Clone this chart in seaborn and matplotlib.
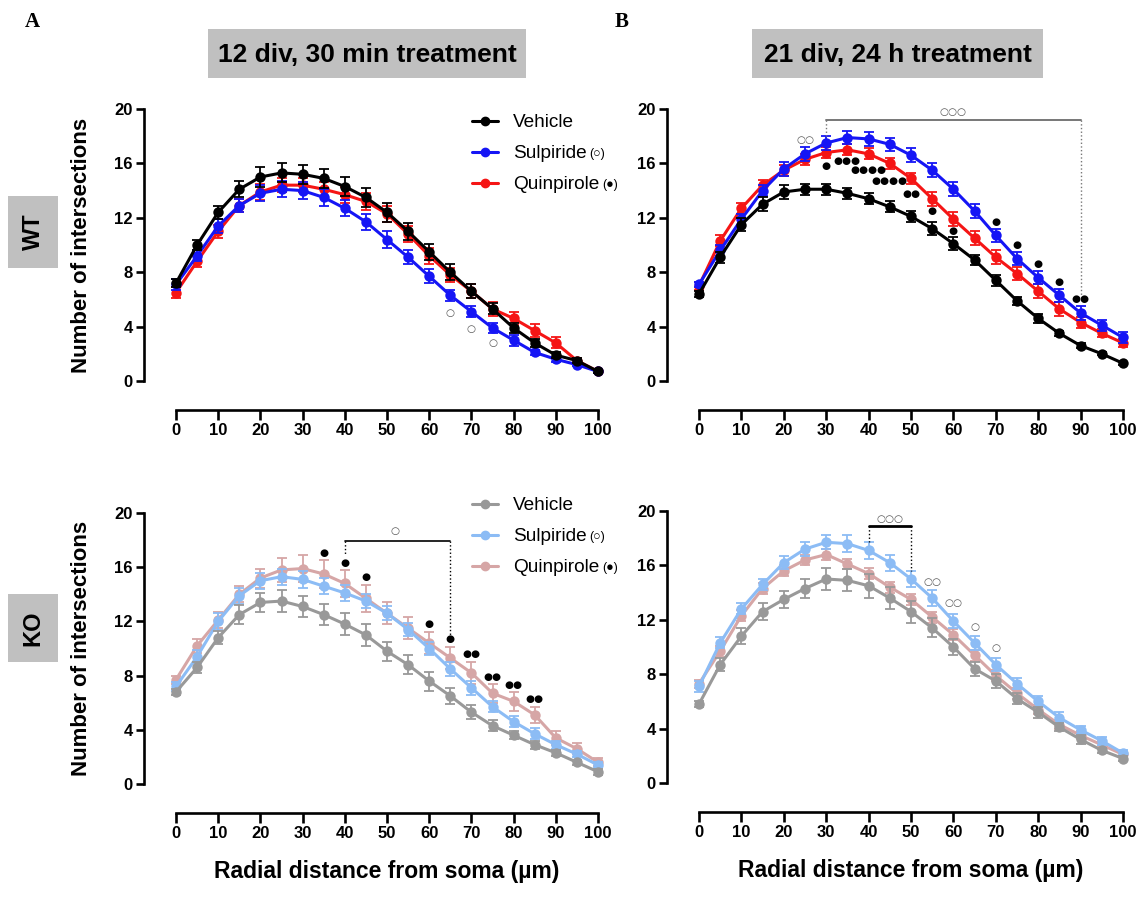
import numpy as np
import pandas as pd
import matplotlib
matplotlib.use('Agg')
import matplotlib.pyplot as plt
from matplotlib.lines import Line2D
from matplotlib.patches import Rectangle
import seaborn as sns

# radial distance steps
radius = np.arange(0, 101, 5)
treatments = ['Vehicle', 'Sulpiride', 'Quinpirole']

# WT, 12 div, 30 min treatment (mean, SEM)
wt_a_vehicle = [7.2, 10.0, 12.4, 14.1, 15.0, 15.3, 15.2, 14.9, 14.3, 13.5, 12.4, 11.0, 9.5, 8.0, 6.6, 5.3, 3.9, 2.8, 1.9, 1.5, 0.7]
wt_a_sulpiride = [7.1, 9.2, 11.4, 12.9, 13.8, 14.1, 14.0, 13.5, 12.7, 11.7, 10.4, 9.1, 7.7, 6.3, 5.1, 3.9, 3.0, 2.1, 1.6, 1.2, 0.7]
wt_a_quinpirole = [6.5, 8.8, 11.0, 12.9, 13.9, 14.4, 14.4, 14.1, 13.7, 13.2, 12.3, 10.8, 9.2, 7.8, 6.6, 5.3, 4.6, 3.7, 2.8, 1.5, 0.7]
wt_a_vehicle_sem = [0.3, 0.4, 0.5, 0.6, 0.7, 0.7, 0.7, 0.7, 0.7, 0.7, 0.7, 0.6, 0.6, 0.6, 0.5, 0.4, 0.4, 0.3, 0.2, 0.2, 0.1]
wt_a_sulpiride_sem = [0.4, 0.4, 0.5, 0.5, 0.6, 0.6, 0.6, 0.6, 0.6, 0.6, 0.6, 0.5, 0.5, 0.4, 0.4, 0.4, 0.4, 0.2, 0.2, 0.1, 0.1]
wt_a_quinpirole_sem = [0.4, 0.4, 0.5, 0.5, 0.6, 0.5, 0.5, 0.5, 0.6, 0.6, 0.6, 0.6, 0.6, 0.5, 0.5, 0.5, 0.5, 0.5, 0.4, 0.2, 0.1]

# WT, 21 div, 24 h treatment
wt_b_vehicle = [6.4, 9.1, 11.5, 13.0, 13.9, 14.1, 14.1, 13.8, 13.4, 12.8, 12.1, 11.2, 10.1, 8.9, 7.4, 5.9, 4.6, 3.5, 2.6, 2.0, 1.3]
wt_b_sulpiride = [7.1, 9.6, 11.9, 14.0, 15.6, 16.7, 17.5, 17.9, 17.8, 17.4, 16.6, 15.5, 14.1, 12.5, 10.7, 9.0, 7.6, 6.3, 5.0, 4.1, 3.2]
wt_b_quinpirole = [7.0, 10.3, 12.7, 14.4, 15.5, 16.3, 16.8, 17.0, 16.7, 16.0, 14.9, 13.4, 11.9, 10.5, 9.1, 7.9, 6.6, 5.3, 4.3, 3.5, 2.8]
wt_b_vehicle_sem = [0.2, 0.4, 0.5, 0.5, 0.5, 0.4, 0.4, 0.4, 0.4, 0.4, 0.4, 0.5, 0.5, 0.4, 0.4, 0.3, 0.3, 0.2, 0.2, 0.1, 0.1]
wt_b_sulpiride_sem = [0.2, 0.4, 0.4, 0.4, 0.5, 0.5, 0.5, 0.5, 0.5, 0.5, 0.5, 0.5, 0.5, 0.5, 0.5, 0.5, 0.5, 0.5, 0.5, 0.4, 0.4]
wt_b_quinpirole_sem = [0.3, 0.4, 0.4, 0.4, 0.4, 0.4, 0.4, 0.4, 0.4, 0.4, 0.4, 0.5, 0.5, 0.5, 0.5, 0.5, 0.5, 0.5, 0.4, 0.3, 0.3]

# KO, 12 div, 30 min treatment
ko_a_vehicle = [6.8, 8.6, 10.8, 12.5, 13.4, 13.5, 13.1, 12.5, 11.8, 11.0, 9.8, 8.8, 7.6, 6.5, 5.3, 4.3, 3.6, 2.9, 2.3, 1.6, 0.9]
ko_a_sulpiride = [7.2, 9.4, 12.0, 13.9, 15.0, 15.3, 15.1, 14.6, 14.1, 13.5, 12.6, 11.4, 10.0, 8.5, 7.1, 5.7, 4.6, 3.7, 2.9, 2.2, 1.4]
ko_a_quinpirole = [7.7, 10.2, 12.1, 14.0, 15.2, 15.8, 15.9, 15.5, 14.8, 13.7, 12.6, 11.5, 10.4, 9.3, 8.2, 6.7, 6.1, 5.1, 3.4, 2.6, 1.6]
ko_a_vehicle_sem = [0.2, 0.4, 0.5, 0.7, 0.7, 0.8, 0.8, 0.8, 0.8, 0.8, 0.7, 0.7, 0.7, 0.6, 0.5, 0.4, 0.3, 0.3, 0.2, 0.2, 0.2]
ko_a_sulpiride_sem = [0.3, 0.5, 0.6, 0.6, 0.6, 0.6, 0.6, 0.6, 0.6, 0.5, 0.5, 0.5, 0.5, 0.5, 0.5, 0.4, 0.4, 0.4, 0.3, 0.2, 0.2]
ko_a_quinpirole_sem = [0.3, 0.5, 0.6, 0.6, 0.7, 0.9, 1.0, 1.0, 1.0, 1.0, 0.8, 0.8, 0.8, 0.8, 0.8, 0.7, 0.7, 0.6, 0.5, 0.4, 0.3]

# KO, 21 div, 24 h treatment
ko_b_vehicle = [5.8, 8.7, 10.8, 12.6, 13.5, 14.3, 15.0, 14.9, 14.5, 13.6, 12.6, 11.4, 10.0, 8.4, 7.5, 6.2, 5.2, 4.1, 3.2, 2.4, 1.8]
ko_b_sulpiride = [7.1, 10.3, 12.8, 14.6, 16.2, 17.2, 17.7, 17.6, 17.1, 16.2, 15.0, 13.6, 11.9, 10.3, 8.7, 7.3, 6.0, 4.8, 3.9, 3.1, 2.2]
ko_b_quinpirole = [7.3, 9.7, 12.3, 14.3, 15.6, 16.4, 16.8, 16.1, 15.4, 14.4, 13.5, 12.2, 10.9, 9.4, 7.9, 6.6, 5.4, 4.3, 3.5, 2.8, 2.1]
ko_b_vehicle_sem = [0.2, 0.5, 0.6, 0.6, 0.6, 0.7, 0.8, 0.8, 0.9, 0.8, 0.8, 0.7, 0.6, 0.5, 0.5, 0.4, 0.4, 0.3, 0.3, 0.2, 0.2]
ko_b_sulpiride_sem = [0.4, 0.4, 0.4, 0.4, 0.5, 0.5, 0.5, 0.6, 0.6, 0.6, 0.6, 0.6, 0.5, 0.5, 0.5, 0.4, 0.4, 0.4, 0.3, 0.3, 0.2]
ko_b_quinpirole_sem = [0.3, 0.4, 0.4, 0.4, 0.4, 0.4, 0.4, 0.4, 0.4, 0.4, 0.4, 0.4, 0.4, 0.4, 0.4, 0.4, 0.3, 0.3, 0.3, 0.3, 0.2]

# significance marks: (radius, height, symbol)
wt_a_marks = [(65, 5.0, '○'), (70, 3.8, '○'), (75, 2.8, '○')]
wt_b_marks = [(25, 17.7, '○○'), (60, 19.75, '○○○'), (30, 15.8, '●'), (35, 16.15, '●●●'),
              (40, 15.5, '●●●●'), (45, 14.7, '●●●●'), (50, 13.75, '●●'), (55, 12.5, '●'),
              (60, 11.0, '●'), (70, 11.7, '●'), (75, 10.0, '●'), (80, 8.6, '●'),
              (85, 7.3, '●'), (90, 6.0, '●●')]
ko_a_marks = [(52, 18.7, '○'), (35, 17.05, '●'), (40, 16.3, '●'), (45, 15.3, '●'),
              (60, 11.8, '●'), (65, 10.7, '●'), (70, 9.6, '●●'), (75, 7.9, '●●'),
              (80, 7.3, '●●'), (85, 6.3, '●●')]
ko_b_marks = [(45, 19.4, '○○○'), (55, 14.8, '○○'), (60, 13.25, '○○'), (65, 11.5, '○'), (70, 9.95, '○')]
# brackets: (x start, x end, height, left drop, right drop)
wt_b_bracket = (30, 90, 19.2, 18.0, 6.2)
ko_a_bracket = (40, 65, 17.9, 16.9, 11.0)
ko_b_bracket = (40, 50, 18.9, 17.7, 15.6)

wt_colors = {'Vehicle': '#000000', 'Sulpiride': '#1515f5', 'Quinpirole': '#f51515'}
ko_colors = {'Vehicle': '#999999', 'Sulpiride': '#8cbcf5', 'Quinpirole': '#d6a6a6'}

sns.set_style('ticks')
plt.rcParams['font.family'] = ['Liberation Sans', 'DejaVu Sans']
plt.rcParams['axes.edgecolor'] = 'black'
plt.rcParams['xtick.color'] = 'black'
plt.rcParams['ytick.color'] = 'black'
plt.rcParams['text.color'] = 'black'
plt.rcParams['axes.labelcolor'] = 'black'

W, H = 1141, 901
fig = plt.figure(figsize=(W / 100, H / 100), dpi=100)


def add_panel(left, top, right, bottom):
    return fig.add_axes([left / W, 1 - bottom / H, (right - left) / W, (bottom - top) / H])


def draw_panel(ax, means, sems, colors, marks, bracket=None, bracket_color='black', bracket_lw=1.4):
    # draw in reverse so Vehicle sits on top
    for name in ['Quinpirole', 'Sulpiride', 'Vehicle']:
        df = pd.DataFrame({'radius': radius, 'value': means[name], 'sem': sems[name]})
        ax.errorbar(df['radius'], df['value'], yerr=df['sem'], fmt='none', ecolor=colors[name],
                    elinewidth=1.3, capsize=3.5, capthick=1.3, clip_on=False)
        sns.lineplot(data=df, x='radius', y='value', ax=ax, color=colors[name], marker='o',
                     markersize=7.5, markeredgewidth=0, linewidth=2.2, clip_on=False, legend=False)
    for x, y, s in marks:
        col = '#555555' if s[0] == '○' else 'black'
        ax.text(x, y, s, ha='center', va='center', fontsize=7.5, color=col,
                family='DejaVu Sans')
    if bracket is not None:
        x1, x2, yb, d1, d2 = bracket
        ax.plot([x1, x2], [yb, yb], color=bracket_color, lw=bracket_lw, clip_on=False)
        ax.plot([x1, x1], [yb, d1], color=bracket_color, lw=1, ls=':', clip_on=False)
        ax.plot([x2, x2], [yb, d2], color=bracket_color, lw=1, ls=':', clip_on=False)

    ax.set_xlim(0, 100)
    ax.set_ylim(0, 20)
    ax.set_xticks(range(0, 101, 10))
    ax.set_yticks(range(0, 21, 4))
    sns.despine(ax=ax)
    ax.spines['left'].set_position(('outward', 23))
    ax.spines['bottom'].set_position(('outward', 21))
    for sp in ['left', 'bottom']:
        ax.spines[sp].set_linewidth(1.9)
    ax.tick_params(axis='both', width=1.9, labelsize=12, pad=2, colors='black')
    ax.tick_params(axis='y', length=6)
    ax.tick_params(axis='x', length=7.5)
    for lab in ax.get_xticklabels() + ax.get_yticklabels():
        lab.set_fontweight('bold')
    ax.set_xlabel('')
    ax.set_ylabel('')


ax_tl = add_panel(176, 109, 598, 381)
ax_tr = add_panel(699, 109, 1123, 381)
ax_bl = add_panel(176, 513, 598, 784)
ax_br = add_panel(699, 511, 1123, 783)

draw_panel(ax_tl,
           {'Vehicle': wt_a_vehicle, 'Sulpiride': wt_a_sulpiride, 'Quinpirole': wt_a_quinpirole},
           {'Vehicle': wt_a_vehicle_sem, 'Sulpiride': wt_a_sulpiride_sem, 'Quinpirole': wt_a_quinpirole_sem},
           wt_colors, wt_a_marks)
draw_panel(ax_tr,
           {'Vehicle': wt_b_vehicle, 'Sulpiride': wt_b_sulpiride, 'Quinpirole': wt_b_quinpirole},
           {'Vehicle': wt_b_vehicle_sem, 'Sulpiride': wt_b_sulpiride_sem, 'Quinpirole': wt_b_quinpirole_sem},
           wt_colors, wt_b_marks, wt_b_bracket, bracket_color='#777777', bracket_lw=1.4)
draw_panel(ax_bl,
           {'Vehicle': ko_a_vehicle, 'Sulpiride': ko_a_sulpiride, 'Quinpirole': ko_a_quinpirole},
           {'Vehicle': ko_a_vehicle_sem, 'Sulpiride': ko_a_sulpiride_sem, 'Quinpirole': ko_a_quinpirole_sem},
           ko_colors, ko_a_marks, ko_a_bracket, bracket_lw=1.2)
draw_panel(ax_br,
           {'Vehicle': ko_b_vehicle, 'Sulpiride': ko_b_sulpiride, 'Quinpirole': ko_b_quinpirole},
           {'Vehicle': ko_b_vehicle_sem, 'Sulpiride': ko_b_sulpiride_sem, 'Quinpirole': ko_b_quinpirole_sem},
           ko_colors, ko_b_marks, ko_b_bracket, bracket_lw=2.0)

# y labels on left panels, x labels on bottom panels
for ax in [ax_tl, ax_bl]:
    ax.set_ylabel('Number of intersections', fontsize=16, fontweight='bold')
    ax.yaxis.set_label_coords(-0.2, 0.5)
for ax in [ax_bl, ax_br]:
    ax.set_xlabel('Radial distance from soma (µm)', fontsize=16.5, fontweight='bold')
    ax.xaxis.set_label_coords(0.5, -0.28)

# legends
legends = []
for ax, colors, top in [(ax_tl, wt_colors, 114), (ax_bl, ko_colors, 497)]:
    handles = [Line2D([], [], color=colors[t], marker='o', markersize=6, lw=2.2) for t in treatments]
    leg = ax.legend(handles, treatments, loc='upper left', frameon=False,
                    bbox_to_anchor=(472 / W, 1 - top / H), bbox_transform=fig.transFigure,
                    fontsize=13.7, handlelength=1.35, handletextpad=0.8, labelspacing=0.72,
                    borderpad=0, borderaxespad=0)
    legends.append(leg)

fig.canvas.draw()
for leg in legends:
    for txt, sym in zip(leg.get_texts()[1:], ['(○)', '(●)']):
        bb = txt.get_window_extent()
        fig.text((bb.x1 + 3) / W, (bb.y0 + bb.y1) / 2 / H, sym, fontsize=9, va='center',
                 family=['Liberation Sans', 'DejaVu Sans'])

# header boxes
for x0, x1, label in [(208, 526, '12 div, 30 min treatment'), (752, 1043, '21 div, 24 h treatment')]:
    fig.patches.append(Rectangle((x0 / W, 1 - 78 / H), (x1 - x0) / W, 49 / H,
                                 transform=fig.transFigure, facecolor='#c0c0c0', edgecolor='none'))
    fig.text((x0 + x1) / 2 / W, 1 - 55 / H, label, ha='center', va='center', fontsize=19,
             fontweight='bold')

# row boxes
for y0, y1, label in [(196, 268, 'WT'), (594, 662, 'KO')]:
    fig.patches.append(Rectangle((8 / W, 1 - y1 / H), 50 / W, (y1 - y0) / H,
                                 transform=fig.transFigure, facecolor='#c0c0c0', edgecolor='none'))
    fig.text(33 / W, 1 - (y0 + y1) / 2 / H, label, ha='center', va='center', fontsize=17,
             fontweight='bold', rotation=90)

fig.text(32 / W, 1 - 22 / H, 'A', ha='center', va='center', fontsize=15, fontweight='bold',
         family='Liberation Serif')
fig.text(622 / W, 1 - 22 / H, 'B', ha='center', va='center', fontsize=15, fontweight='bold',
         family='Liberation Serif')

fig.savefig('out.png', dpi=100)
